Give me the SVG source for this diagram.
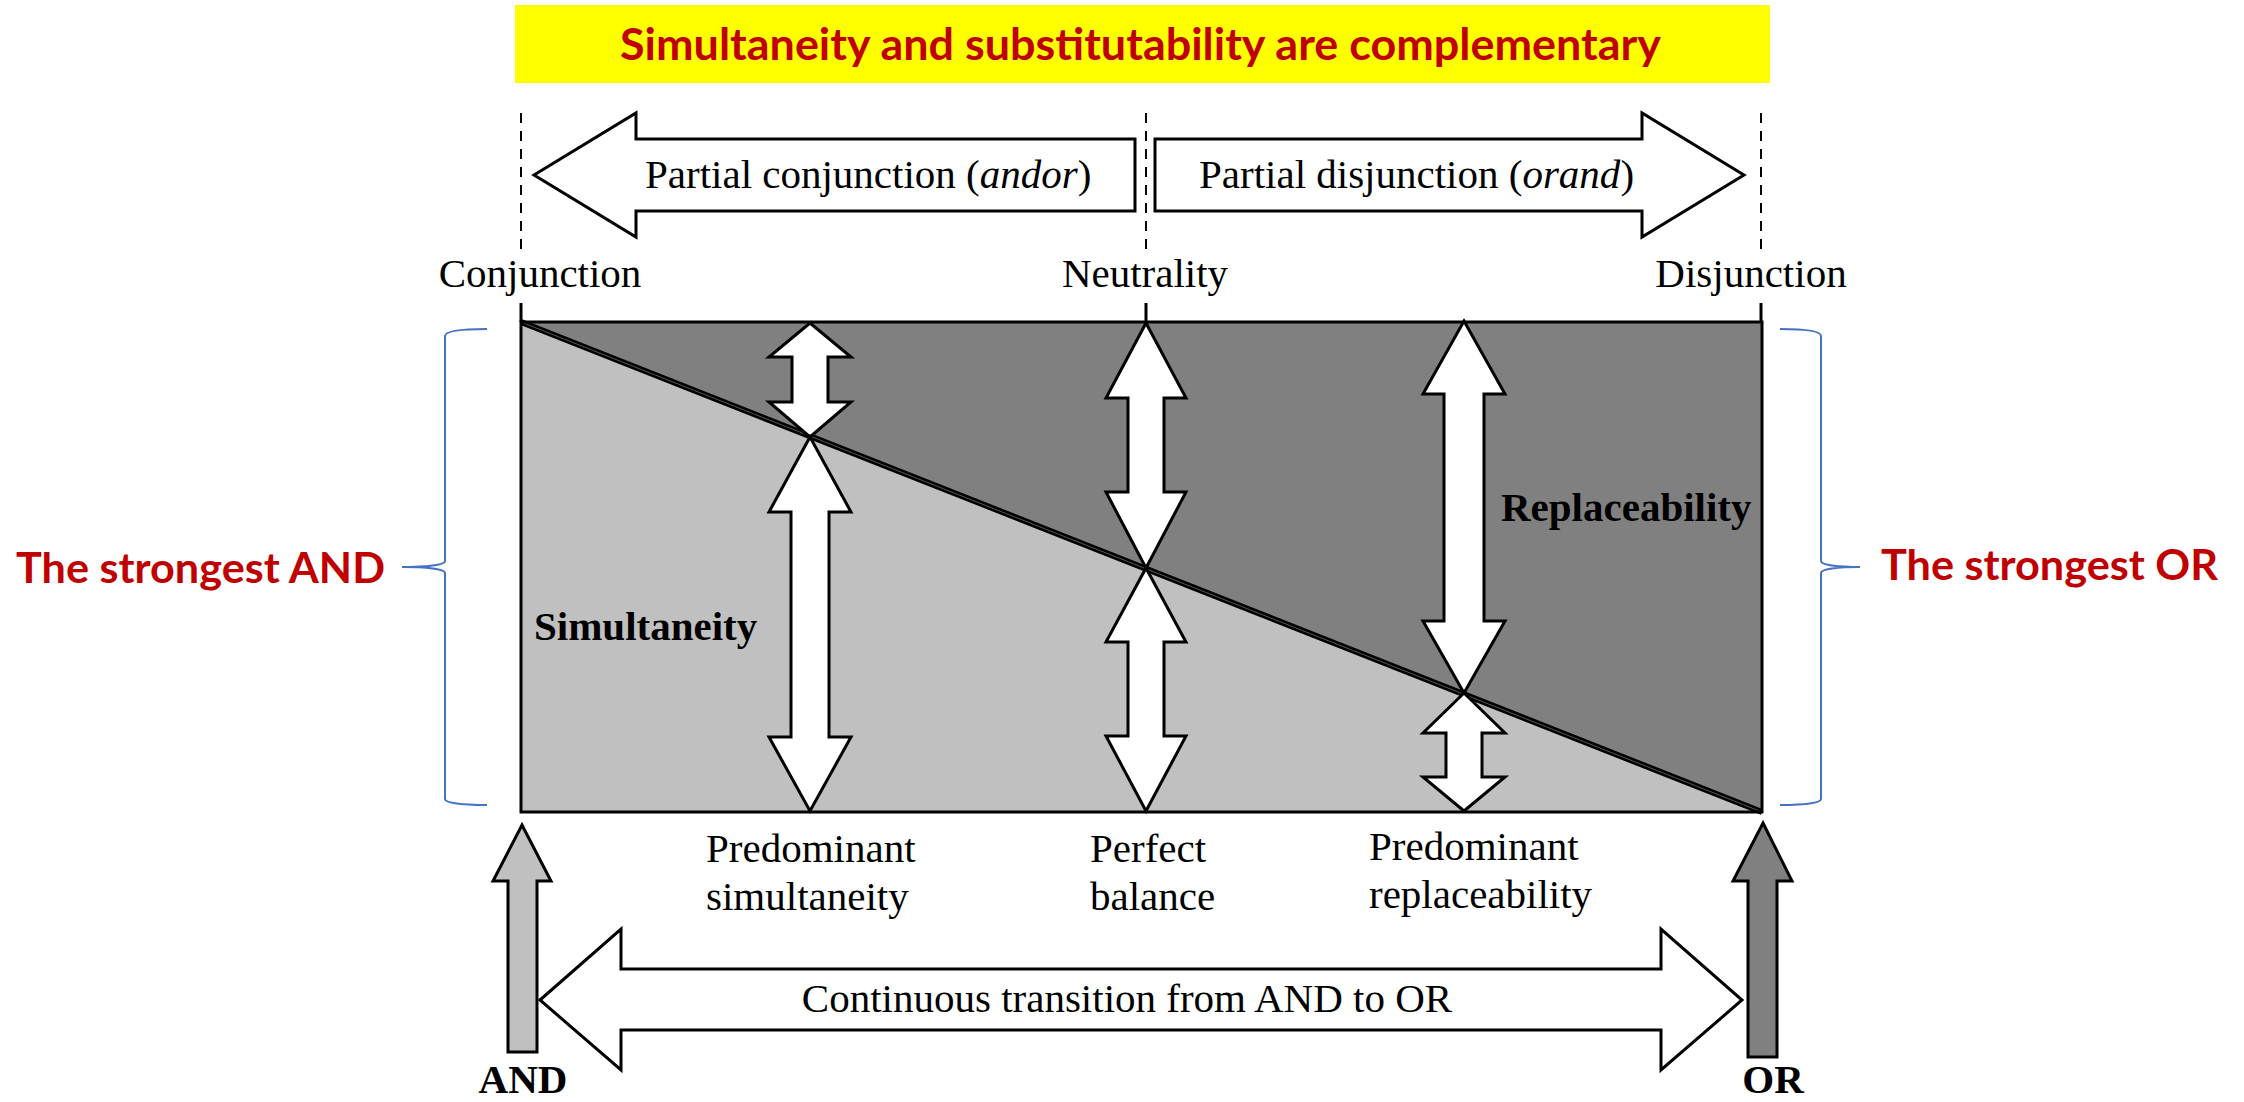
<svg xmlns="http://www.w3.org/2000/svg" width="2244" height="1102" viewBox="0 0 2244 1102">
<style>
.serif{font-family:"Liberation Serif","Times New Roman",serif;font-size:41px;fill:#000}
.b{font-weight:bold}
.red{font-family:Lato,"Open Sans",sans-serif;font-weight:bold;fill:#C00000}
.warr{fill:#fff;stroke:#000;stroke-width:3;stroke-linejoin:miter}
.dash{stroke:#000;stroke-width:2;stroke-dasharray:10 8;fill:none}
.tick{stroke:#000;stroke-width:3}
.brace{fill:none;stroke:#4472C4;stroke-width:2}
</style>
<rect width="2244" height="1102" fill="#fff"/>
<g id="banner">
<rect x="515" y="5" width="1255" height="78" fill="#FFFF00"/>
<text class="red" x="620" y="60" font-size="43" textLength="1041" lengthAdjust="spacingAndGlyphs">Simultaneity and substitutability are complementary</text>
</g>
<g id="guides">
<line class="dash" x1="521" y1="113" x2="521" y2="250"/>
<line class="dash" x1="1146" y1="113" x2="1146" y2="250"/>
<line class="dash" x1="1761" y1="113" x2="1761" y2="250"/>
<line class="tick" x1="521" y1="303" x2="521" y2="322"/>
<line class="tick" x1="1146" y1="303" x2="1146" y2="322"/>
<line class="tick" x1="1761" y1="303" x2="1761" y2="322"/>
</g>
<g id="partial-conjunction">
<polygon class="warr" points="534,175 636,113 636,139 1135,139 1135,211 636,211 636,237"/>
<text class="serif" x="645" y="188">Partial conjunction (<tspan font-style="italic">andor</tspan>)</text>
</g>
<g id="partial-disjunction">
<polygon class="warr" points="1155,139 1642,139 1642,113 1744,175 1642,237 1642,211 1155,211"/>
<text class="serif" x="1199" y="188">Partial disjunction (<tspan font-style="italic">orand</tspan>)</text>
</g>
<g id="axis-labels">
<text class="serif" x="540" y="287" text-anchor="middle">Conjunction</text>
<text class="serif" x="1145" y="287" text-anchor="middle">Neutrality</text>
<text class="serif" x="1751" y="287" text-anchor="middle">Disjunction</text>
</g>
<g id="box">
<rect x="521" y="322" width="1241" height="490" fill="#808080"/>
<polygon points="521,322 1762,812 521,812" fill="#C0C0C0"/>
<line x1="521" y1="322" x2="1762" y2="812" stroke="#000" stroke-width="6"/>
<line x1="521" y1="322" x2="1762" y2="812" stroke="#555" stroke-width="1"/>
<rect x="521" y="322" width="1241" height="490" fill="none" stroke="#000" stroke-width="3"/>
<text class="serif b" x="534" y="640">Simultaneity</text>
<text class="serif b" x="1501" y="521">Replaceability</text>
</g>
<g id="inner-arrows">
<polygon class="warr" points="810,323 851,357 828,357 828,402 851,402 810,437 769,402 792,402 792,357 769,357"/>
<polygon class="warr" points="810,437 851,512 829,512 829,737 851,737 810,811 769,737 791,737 791,512 769,512"/>
<polygon class="warr" points="1146,323 1186,398 1164,398 1164,492 1186,492 1146,568 1106,492 1128,492 1128,398 1106,398"/>
<polygon class="warr" points="1146,568 1186,642 1164,642 1164,736 1186,736 1146,811 1106,736 1128,736 1128,642 1106,642"/>
<polygon class="warr" points="1464,321 1505,394 1484,394 1484,621 1505,621 1464,693 1423,621 1444,621 1444,394 1423,394"/>
<polygon class="warr" points="1464,693 1505,733 1482,733 1482,777 1505,777 1464,811 1423,777 1446,777 1446,733 1423,733"/>
</g>
<g id="strongest-and">
<path class="brace" d="M487,329 C462,329 445,331 445,336 L445,561 C445,565 426,567 402,567 C426,567 445,569 445,573 L445,799 C445,803 462,805 487,805"/>
<text class="red" x="16" y="583" font-size="42" textLength="369" lengthAdjust="spacingAndGlyphs">The strongest AND</text>
</g>
<g id="strongest-or">
<path class="brace" d="M1780,329 C1805,329 1821,331 1821,336 L1821,561 C1821,565 1838,567 1860,567 C1838,567 1821,569 1821,573 L1821,799 C1821,803 1805,805 1780,805"/>
<text class="red" x="1881" y="580" font-size="42" textLength="337" lengthAdjust="spacingAndGlyphs">The strongest OR</text>
</g>
<g id="bottom-labels">
<text class="serif" x="706" y="862">Predominant</text>
<text class="serif" x="706" y="910">simultaneity</text>
<text class="serif" x="1090" y="862">Perfect</text>
<text class="serif" x="1090" y="910">balance</text>
<text class="serif" x="1369" y="860">Predominant</text>
<text class="serif" x="1369" y="908">replaceability</text>
</g>
<g id="and-arrow">
<polygon points="522,825 551,881 537,881 537,1052 508,1052 508,881 493,881" fill="#C0C0C0" stroke="#000" stroke-width="3"/>
<text class="serif b" x="523" y="1093" font-size="40" text-anchor="middle">AND</text>
</g>
<g id="or-arrow">
<polygon points="1763,823 1792,881 1777,881 1777,1057 1748,1057 1748,881 1733,881" fill="#808080" stroke="#000" stroke-width="3"/>
<text class="serif b" x="1773" y="1093" font-size="40" text-anchor="middle">OR</text>
</g>
<g id="transition">
<polygon class="warr" points="540,1000 621,929 621,969 1661,969 1661,929 1742,1000 1661,1070 1661,1030 621,1030 621,1070"/>
<text class="serif" x="1127" y="1012" text-anchor="middle">Continuous transition from AND to OR</text>
</g>
</svg>
